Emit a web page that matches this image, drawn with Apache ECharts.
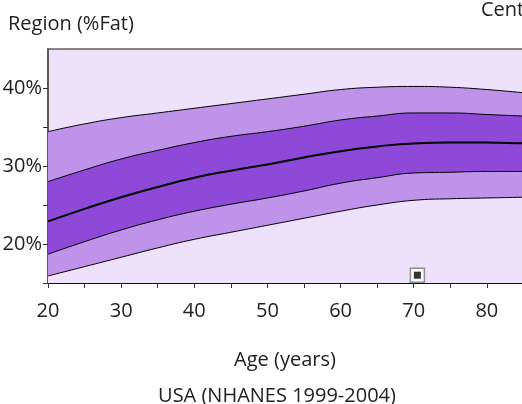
<!DOCTYPE html>
<html>
<head>
<meta charset="utf-8">
<script src="https://cdn.jsdelivr.net/npm/echarts@6/dist/echarts.min.js"></script>
<style>html,body{margin:0;padding:0;background:#fff;}#c{width:522px;height:404px;}</style>
</head>
<body>
<div id="c"></div>
<script>
// Age (years)
const ages = [20, 25, 30, 35, 40, 45, 50, 55, 60, 65, 70, 75, 80, 85, 90];
// Centile curves (%Fat)
const pTop    = [34.4, 35.4, 36.2, 36.8, 37.4, 38.0, 38.6, 39.2, 39.8, 40.1, 40.2, 40.1, 39.8, 39.4, 39.0];
const pUpper  = [28.0, 29.5, 30.9, 32.0, 33.0, 33.8, 34.4, 35.1, 35.9, 36.4, 36.8, 36.8, 36.6, 36.4, 36.2];
const pMedian = [22.9, 24.5, 26.0, 27.3, 28.5, 29.4, 30.2, 31.1, 31.9, 32.5, 32.9, 33.0, 33.0, 32.9, 32.8];
const pLower  = [18.7, 20.3, 21.8, 23.1, 24.2, 25.1, 25.9, 26.8, 27.8, 28.5, 29.1, 29.2, 29.3, 29.3, 29.3];
const pBottom = [15.9, 17.1, 18.3, 19.5, 20.6, 21.5, 22.4, 23.3, 24.2, 25.0, 25.6, 25.8, 25.9, 26.0, 26.1];
// Subject measurement
const subjectAge = [70.5];
const subjectFat = [16.0];
// Tick labels
const xTickLabels = [20, 30, 40, 50, 60, 70, 80, 90];
const yTickLabels = [20, 30, 40];
const yTicks = [15, 20, 25, 30, 35, 40];

const FONT = 'Open Sans';
const BG = '#EEE1FA', LIGHT = '#BE93E9', DARK = '#8F49D8';

const pairs = arr => ages.map((a, i) => [a, arr[i]]);

function fill(arr, color) {
  return { type: 'line', data: pairs(arr), smooth: true, symbol: 'none', silent: true,
    lineStyle: { width: 0 }, areaStyle: { color: color, opacity: 1, origin: 'start' } };
}
function curve(arr, w) {
  return { type: 'line', data: pairs(arr), smooth: true, symbol: 'none', silent: true,
    lineStyle: { color: '#000', width: w } };
}

const chart = echarts.init(document.getElementById('c'), null, { renderer: 'canvas' });
chart.setOption({
  animation: false,
  backgroundColor: '#fff',
  grid: { left: 48, top: 49, width: 512, height: 234, show: true, backgroundColor: BG, borderColor: '#111', borderWidth: 1,
    outerBoundsMode: 'none', containLabel: false },
  xAxis: {
    type: 'value', min: 20, max: 90, interval: 5,
    axisLine: { show: true, lineStyle: { color: '#111', width: 1 } },
    axisTick: { show: true, length: 5, lineStyle: { color: '#333' } },
    splitLine: { show: false },
    axisLabel: { fontFamily: FONT, fontSize: 20, color: '#222', margin: 18,
      formatter: v => xTickLabels.includes(v) ? String(v) : '' }
  },
  yAxis: {
    type: 'value', min: 15, max: 45, interval: 5,
    axisLine: { show: true, lineStyle: { color: '#5a5a5a', width: 2 } },
    axisTick: { show: true, length: 5, customValues: yTicks, lineStyle: { color: '#333' } },
    splitLine: { show: false },
    axisLabel: { fontFamily: FONT, fontSize: 20, color: '#222', margin: 6, padding: [8, 0, 0, 0],
      formatter: v => yTickLabels.includes(v) ? v + '%' : '' }
  },
  series: [
    fill(pTop, LIGHT),
    fill(pUpper, DARK),
    fill(pLower, LIGHT),
    fill(pBottom, BG),
    curve(pTop, 1),
    curve(pUpper, 1),
    curve(pMedian, 2),
    curve(pLower, 1),
    curve(pBottom, 1),
    { type: 'scatter', data: subjectAge.map((a, i) => [a, subjectFat[i]]), symbol: 'rect', symbolSize: 14, silent: true,
      itemStyle: { color: '#fff', borderColor: '#777', borderWidth: 1.5 }, z: 5 },
    { type: 'scatter', data: subjectAge.map((a, i) => [a, subjectFat[i]]), symbol: 'rect', symbolSize: 7, silent: true,
      itemStyle: { color: '#000' }, z: 6 }
  ],
  graphic: [
    { type: 'text', left: 8, top: 14, style: { text: 'Region (%Fat)', fontFamily: FONT, fontSize: 20, fill: '#222' } },
    { type: 'text', x: 481, y: 0, style: { text: 'Centile', fontFamily: FONT, fontSize: 20, fill: '#222' } },
    { type: 'text', x: 285, y: 360, style: { text: 'Age (years)', fontFamily: FONT, fontSize: 20, fill: '#222', align: 'center', verticalAlign: 'middle' } },
    { type: 'text', x: 277, y: 396, style: { text: 'USA (NHANES 1999-2004)', fontFamily: FONT, fontSize: 20, fill: '#222', align: 'center', verticalAlign: 'middle' } }
  ]
});
</script>
</body>
</html>
